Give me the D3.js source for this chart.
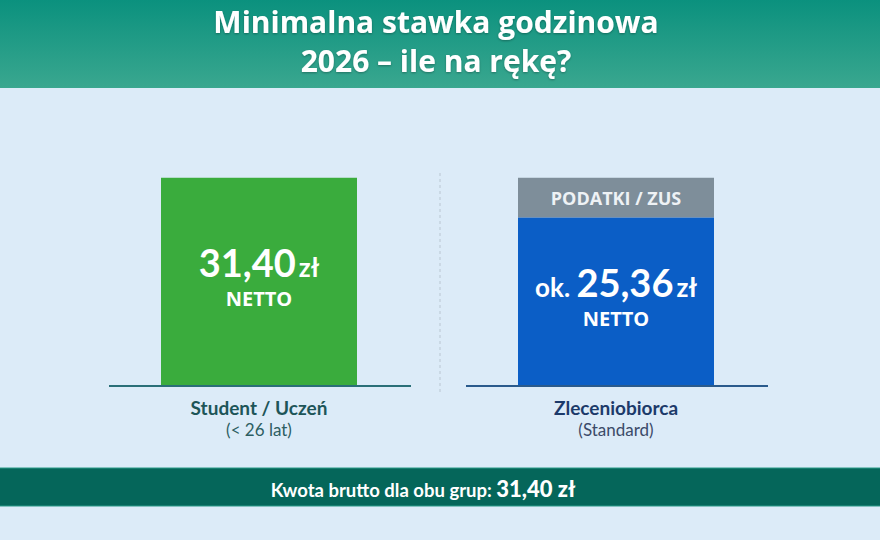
<!DOCTYPE html>
<html>
<head>
<meta charset="utf-8">
<script src="https://cdn.jsdelivr.net/npm/d3@7"></script>
<style>
  body { margin: 0; background: #dcebf8; }
  svg { display: block; font-family: Lato, 'Open Sans', sans-serif; }
</style>
</head>
<body>
<div id="chart"></div>
<script>
const categories = ['Student / Uczeń', 'Zleceniobiorca'];
const subLabels = ['(< 26 lat)', '(Standard)'];
const prefixes = ['', 'ok. '];
const netto = [31.40, 25.36];
const podatki = [0, 6.04];
const brutto = 31.40;
const titleLines = ['Minimalna stawka godzinowa', '2026 – ile na rękę?'];

const W = 880, H = 540;
const pl = d3.formatLocale({decimal: ',', thousands: ' ', grouping: [3], currency: ['', ' zł']});
const f = pl.format('.2f');

const colors = {
  bar: ['#3aac3d', '#0b5ec6'],
  tax: '#7e8e9a',
  base: ['#2a6f78', '#2a5a8c'],
  label: ['#1d5558', '#1c3a6a'],
  sub: ['#2d5e62', '#3b4a68']
};

// one row per group, built from the arrays above
const rows = categories.map((c, i) => ({
  cat: c, sub: subLabels[i], prefix: prefixes[i],
  netto: netto[i], tax: podatki[i], i: i
}));

const svg = d3.select('#chart').append('svg')
  .attr('width', W)
  .attr('height', H);

const defs = svg.append('defs');
const grad = defs.append('linearGradient')
  .attr('id', 'head')
  .attr('x1', 0).attr('y1', 0).attr('x2', 0).attr('y2', 1);
grad.append('stop').attr('offset', '0%').attr('stop-color', '#0b917e');
grad.append('stop').attr('offset', '100%').attr('stop-color', '#3aa78f');

const shadow = defs.append('filter').attr('id', 'sh');
shadow.append('feDropShadow')
  .attr('dx', 0).attr('dy', 1).attr('stdDeviation', 1.2)
  .attr('flood-color', '#000').attr('flood-opacity', 0.3);

svg.append('rect')
  .attr('width', W).attr('height', H)
  .attr('fill', '#dcebf8');

// header
svg.append('rect')
  .attr('width', W).attr('height', 88)
  .attr('fill', 'url(#head)');

svg.append('g')
  .selectAll('text')
  .data(titleLines)
  .enter().append('text')
  .attr('x', 436)
  .attr('y', (d, i) => 33 + i * 39)
  .attr('text-anchor', 'middle')
  .attr('fill', '#fff')
  .attr('font-family', "'Open Sans', sans-serif")
  .attr('font-size', 30)
  .attr('font-weight', 700)
  .attr('filter', 'url(#sh)')
  .text(d => d);

// scales
const x = d3.scalePoint()
  .domain(categories)
  .range([259, 616]);

const y = d3.scaleLinear()
  .domain([0, 35])
  .range([385, 154]);

const barW = 196;

// separator
svg.append('line')
  .attr('x1', 440).attr('x2', 440)
  .attr('y1', 173).attr('y2', 393)
  .attr('stroke', '#b9c6d2')
  .attr('stroke-width', 1)
  .attr('stroke-dasharray', '3,3');

const groups = svg.selectAll('.grp')
  .data(rows)
  .enter().append('g')
  .attr('class', 'grp');

// tax cap
const taxed = groups.filter(d => d.tax > 0);

taxed.append('rect')
  .attr('x', d => x(d.cat) - barW / 2)
  .attr('width', barW)
  .attr('y', d => y(d.netto + d.tax))
  .attr('height', d => y(d.netto) - y(d.netto + d.tax))
  .attr('fill', colors.tax);

taxed.append('text')
  .attr('x', d => x(d.cat))
  .attr('y', d => (y(d.netto) + y(d.netto + d.tax)) / 2 + 7)
  .attr('text-anchor', 'middle')
  .attr('fill', '#eef2f5')
  .attr('font-family', "'Open Sans', sans-serif")
  .attr('font-size', 18)
  .attr('font-weight', 700)
  .text('PODATKI / ZUS');

// net bars
groups.append('rect')
  .attr('x', d => x(d.cat) - barW / 2)
  .attr('width', barW)
  .attr('y', d => y(d.netto))
  .attr('height', d => y(0) - y(d.netto))
  .attr('fill', d => colors.bar[d.i]);

// baselines
groups.append('line')
  .attr('x1', d => x(d.cat) - 150)
  .attr('x2', d => x(d.cat) + 152)
  .attr('y1', y(0) + 1).attr('y2', y(0) + 1)
  .attr('stroke', d => colors.base[d.i])
  .attr('stroke-width', 2);

// value labels
const mid = d => (y(d.netto) + y(0)) / 2;

const val = groups.append('text')
  .attr('x', d => x(d.cat))
  .attr('y', d => mid(d) - 4)
  .attr('text-anchor', 'middle')
  .attr('fill', '#fff')
  .attr('font-weight', 700);

val.append('tspan')
  .attr('font-size', 26)
  .text(d => d.prefix);
val.append('tspan')
  .attr('font-size', 38)
  .text(d => f(d.netto));
val.append('tspan')
  .attr('font-size', 26)
  .attr('dx', 3)
  .text('zł');

groups.append('text')
  .attr('x', d => x(d.cat))
  .attr('y', d => mid(d) + 25)
  .attr('text-anchor', 'middle')
  .attr('fill', '#fff')
  .attr('font-family', "'Open Sans', sans-serif")
  .attr('font-size', 20)
  .attr('font-weight', 700)
  .text('NETTO');

// category labels
groups.append('text')
  .attr('x', d => x(d.cat))
  .attr('y', 415)
  .attr('text-anchor', 'middle')
  .attr('fill', d => colors.label[d.i])
  .attr('font-size', 19)
  .attr('font-weight', 700)
  .text(d => d.cat);

groups.append('text')
  .attr('x', d => x(d.cat))
  .attr('y', 436)
  .attr('text-anchor', 'middle')
  .attr('fill', d => colors.sub[d.i])
  .attr('font-size', 17)
  .text(d => d.sub);

// footer
svg.append('rect')
  .attr('x', 0).attr('y', 468)
  .attr('width', W).attr('height', 38)
  .attr('fill', '#05665a');
svg.append('line')
  .attr('x1', 0).attr('x2', W)
  .attr('y1', 468).attr('y2', 468)
  .attr('stroke', '#2a9a88').attr('stroke-width', 1);
svg.append('line')
  .attr('x1', 0).attr('x2', W)
  .attr('y1', 506).attr('y2', 506)
  .attr('stroke', '#2a9a88').attr('stroke-width', 1);

const foot = svg.append('text')
  .attr('x', 423)
  .attr('y', 497)
  .attr('text-anchor', 'middle')
  .attr('fill', '#fff')
  .attr('font-weight', 700);
foot.append('tspan')
  .attr('font-size', 18.5)
  .text('Kwota brutto dla obu grup: ');
foot.append('tspan')
  .attr('font-size', 22)
  .attr('font-weight', 900)
  .text(f(brutto) + ' zł');
</script>
</body>
</html>
